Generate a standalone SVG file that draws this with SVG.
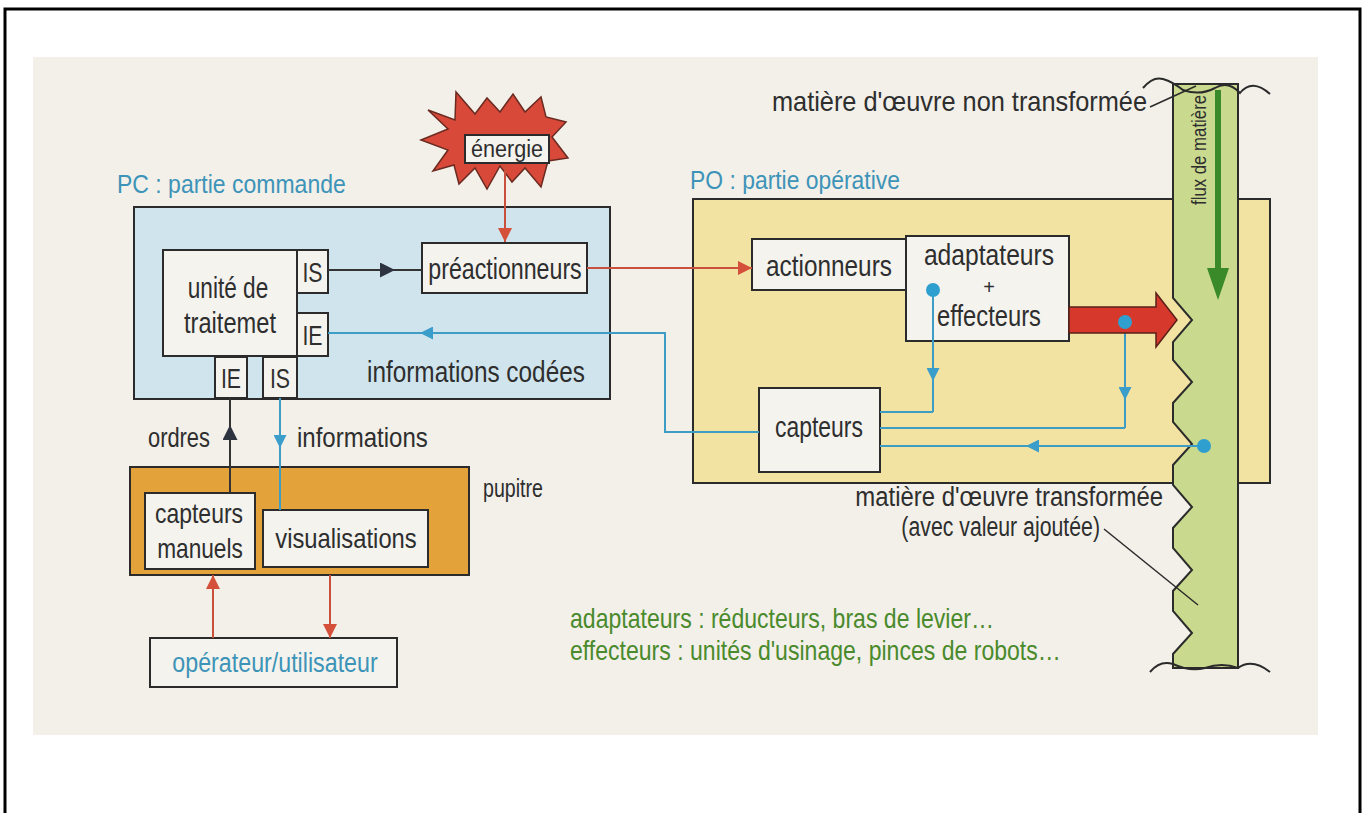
<svg xmlns="http://www.w3.org/2000/svg" width="1365" height="813" viewBox="0 0 1365 813">
<style>
.t{font-family:"Liberation Sans",Arial,sans-serif;fill:#2e2e2e;}
.blue{fill:#3d93b8;}
.green{fill:#4a8a2c;}
.box{fill:#f4f3ee;stroke:#2b2b2b;stroke-width:2;}
.ln{fill:none;stroke-width:2;}
.dk{stroke:#333;}
.rd{stroke:#c9503c;}
.bl{stroke:#3e9dc4;}
.dot{fill:#2f9fd0;}
</style>
<defs>
<marker id="aDark" viewBox="0 0 10 10" refX="10" refY="5" markerUnits="userSpaceOnUse" markerWidth="22" markerHeight="15" orient="auto"><path d="M0,0 L10,5 L0,10 z" fill="#2e3340"/></marker>
<marker id="aRed" viewBox="0 0 10 10" refX="10" refY="5" markerUnits="userSpaceOnUse" markerWidth="18" markerHeight="14" orient="auto"><path d="M0,0 L10,5 L0,10 z" fill="#d4503a"/></marker>
<marker id="aBlue" viewBox="0 0 10 10" refX="10" refY="5" markerUnits="userSpaceOnUse" markerWidth="17" markerHeight="13" orient="auto"><path d="M0,0 L10,5 L0,10 z" fill="#3a9dca"/></marker>
</defs>
<rect x="0" y="0" width="1365" height="813" fill="#ffffff"/>
<rect x="5" y="9" width="1355" height="812" fill="none" stroke="#000" stroke-width="3"/>
<rect x="33" y="57" width="1285" height="678" fill="#f2f0e9"/>

<!-- PC -->
<g id="pc">
<text class="t blue" font-size="25" transform="translate(117,193) scale(0.92,1)">PC : partie commande</text>
<rect x="134" y="207" width="476" height="192" fill="#cfe4ec" stroke="#2b2b2b" stroke-width="2"/>
</g>
<g id="energie">
<polygon points="428,110 455,120 456,92 475,114 487,98 500,112 513,94 525,112 541,97 546,117 566,122 552,137 568,158 548,161 541,187 525,168 512,182 500,166 487,189 475,168 459,184 454,165 433,171 448,150 421,140 448,129" fill="#d8493a" stroke="#6a2a20" stroke-width="1.5"/>
<rect x="465" y="135" width="84" height="28" class="box"/>
<text class="t" font-size="24" text-anchor="middle" transform="translate(507,157) scale(0.9,1)">énergie</text>
</g>
<g id="unite">
<rect x="163" y="250" width="134" height="106" class="box"/>
<text class="t" font-size="29" text-anchor="middle" transform="translate(228,298) scale(0.78,1)">unité de</text>
<text class="t" font-size="29" text-anchor="middle" transform="translate(230,333) scale(0.815,1)">traitemet</text>
</g>
<g id="is1"><rect x="297" y="250" width="31" height="43" class="box"/><text class="t" font-size="28" text-anchor="middle" transform="translate(312.5,282) scale(0.76,1)">IS</text></g>
<g id="ie1"><rect x="297" y="313" width="31" height="43" class="box"/><text class="t" font-size="28" text-anchor="middle" transform="translate(312.5,345) scale(0.76,1)">IE</text></g>
<g id="ie2"><rect x="215" y="357" width="32" height="41" class="box"/><text class="t" font-size="28" text-anchor="middle" transform="translate(231,388) scale(0.76,1)">IE</text></g>
<g id="is2"><rect x="263" y="357" width="34" height="41" class="box"/><text class="t" font-size="28" text-anchor="middle" transform="translate(280,388) scale(0.76,1)">IS</text></g>
<g id="preact">
<rect x="422" y="243" width="165" height="50" class="box"/>
<text class="t" font-size="29" text-anchor="middle" transform="translate(505,279) scale(0.8,1)">préactionneurs</text>
</g>
<g id="infocodees"><text class="t" font-size="29" transform="translate(367,382) scale(0.84,1)">informations codées</text></g>

<!-- pupitre -->
<g id="pupitre">
<rect x="130" y="467" width="339" height="108" fill="#e3a33a" stroke="#2b2b2b" stroke-width="2"/>
<text class="t" font-size="25" transform="translate(483,497) scale(0.785,1)">pupitre</text>
</g>
<g id="capman">
<rect x="145" y="493" width="110" height="76" class="box"/>
<text class="t" font-size="28" text-anchor="middle" transform="translate(199,523) scale(0.82,1)">capteurs</text>
<text class="t" font-size="28" text-anchor="middle" transform="translate(200,558) scale(0.81,1)">manuels</text>
</g>
<g id="visu">
<rect x="263" y="510" width="165" height="57" class="box"/>
<text class="t" font-size="28" text-anchor="middle" transform="translate(346,548) scale(0.85,1)">visualisations</text>
</g>
<g id="operateur">
<rect x="150" y="638" width="247" height="49" class="box"/>
<text class="t blue" font-size="28" text-anchor="middle" transform="translate(275,672) scale(0.83,1)">opérateur/utilisateur</text>
</g>
<g id="labels-pupitre">
<text class="t" font-size="27" transform="translate(148,447) scale(0.81,1)">ordres</text>
<text class="t" font-size="27" transform="translate(297,447) scale(0.89,1)">informations</text>
</g>

<!-- PO -->
<g id="po">
<text class="t blue" font-size="25" transform="translate(690,189) scale(0.916,1)">PO : partie opérative</text>
<rect x="693" y="199" width="577" height="284" fill="#f3e3a2" stroke="#2b2b2b" stroke-width="2"/>
</g>
<g id="actionneurs">
<rect x="752" y="239" width="154" height="51" class="box"/>
<text class="t" font-size="29" text-anchor="middle" transform="translate(829,276) scale(0.84,1)">actionneurs</text>
</g>
<g id="adaptateurs">
<rect x="906" y="236" width="163" height="105" class="box"/>
<text class="t" font-size="29" text-anchor="middle" transform="translate(989,265) scale(0.85,1)">adaptateurs</text>
<text class="t" font-size="20" text-anchor="middle" transform="translate(989,294)">+</text>
<text class="t" font-size="29" text-anchor="middle" transform="translate(989,326) scale(0.82,1)">effecteurs</text>
</g>
<g id="capteurs">
<rect x="759" y="388" width="121" height="84" class="box"/>
<text class="t" font-size="29" text-anchor="middle" transform="translate(819,437) scale(0.79,1)">capteurs</text>
</g>

<!-- flux -->
<g id="flux">
<path d="M1173,84 L1238,84 L1238,668 L1173,668 L1173,654 L1192,633 L1173,611 L1173,591 L1192,570 L1173,548 L1173,528 L1192,507 L1173,485 L1173,465 L1192,444 L1173,422 L1173,403 L1192,382 L1173,360 L1173,342 L1192,320 L1173,298 Z" fill="#c9da8e" stroke="#2b2b2b" stroke-width="2"/>
<path d="M1143,88 Q1153,76 1163,79 Q1173,82 1183,90 Q1200,96 1215,88 Q1228,80 1240,93 Q1252,78 1270,94" fill="none" stroke="#2b2b2b" stroke-width="2"/>
<path d="M1150,672 Q1160,660 1173,664 Q1190,672 1205,668 Q1222,662 1238,668 Q1252,658 1270,672" fill="none" stroke="#2b2b2b" stroke-width="2"/>
<polygon points="1215,90 1221,90 1221,268 1229,268 1218,300 1207,268 1215,268" fill="#3a8a2a"/>
<text class="t" font-size="20" transform="translate(1206,205) rotate(-90) scale(0.84,1)">flux de matière</text>
</g>
<g id="matiere-labels">
<text class="t" font-size="28" text-anchor="end" transform="translate(1147,111) scale(0.905,1)">matière d'œuvre non transformée</text>
<line x1="1150" y1="107" x2="1196" y2="86" stroke="#2b2b2b" stroke-width="1.5"/>
<text class="t" font-size="28" text-anchor="end" transform="translate(1163,506) scale(0.855,1)">matière d'œuvre transformée</text>
<text class="t" font-size="28" text-anchor="end" transform="translate(1100,536) scale(0.76,1)">(avec valeur ajoutée)</text>
<line x1="1104" y1="529" x2="1198" y2="605" stroke="#2b2b2b" stroke-width="1.5"/>
<text class="t green" font-size="27" transform="translate(570,628) scale(0.854,1)">adaptateurs : réducteurs, bras de levier…</text>
<text class="t green" font-size="27" transform="translate(570,660) scale(0.854,1)">effecteurs : unités d'usinage, pinces de robots…</text>
</g>

<!-- connectors -->
<g id="connectors">
<path class="ln rd" d="M505,164 V242" marker-end="url(#aRed)"/>
<path class="ln dk" d="M328,270 L395,270 L422,270" marker-mid="url(#aDark)"/>
<path class="ln rd" d="M587,268 H752" marker-end="url(#aRed)"/>
<path class="ln bl" d="M759,432 H665 V333 H420" marker-end="url(#aBlue)"/>
<path class="ln bl" d="M420,333 H328"/>
<path class="ln dk" d="M230,493 L230,425 L230,398" marker-mid="url(#aDark)"/>
<path class="ln bl" d="M280,398 L280,448 L280,510" marker-mid="url(#aBlue)"/>
<path class="ln rd" d="M213,638 V575" marker-end="url(#aRed)"/>
<path class="ln rd" d="M330,575 V638" marker-end="url(#aRed)"/>
<path class="ln bl" d="M933,290 L933,381 L933,412" marker-mid="url(#aBlue)"/>
<path class="ln bl" d="M933,412 H880"/>
<path class="ln bl" d="M1125,322 L1125,400 L1125,428" marker-mid="url(#aBlue)"/>
<path class="ln bl" d="M1125,428 H880"/>
<path class="ln bl" d="M1204,446 L1026,446 L880,446" marker-mid="url(#aBlue)"/>
<polygon points="1069,307 1156,307 1156,293 1177,320 1156,347 1156,333 1069,333" fill="#d6392b" stroke="#5a2018" stroke-width="1.5"/>
<circle class="dot" cx="933" cy="290" r="7"/>
<circle class="dot" cx="1125" cy="322" r="7"/>
<circle class="dot" cx="1204" cy="446" r="7"/>
</g>
</svg>
